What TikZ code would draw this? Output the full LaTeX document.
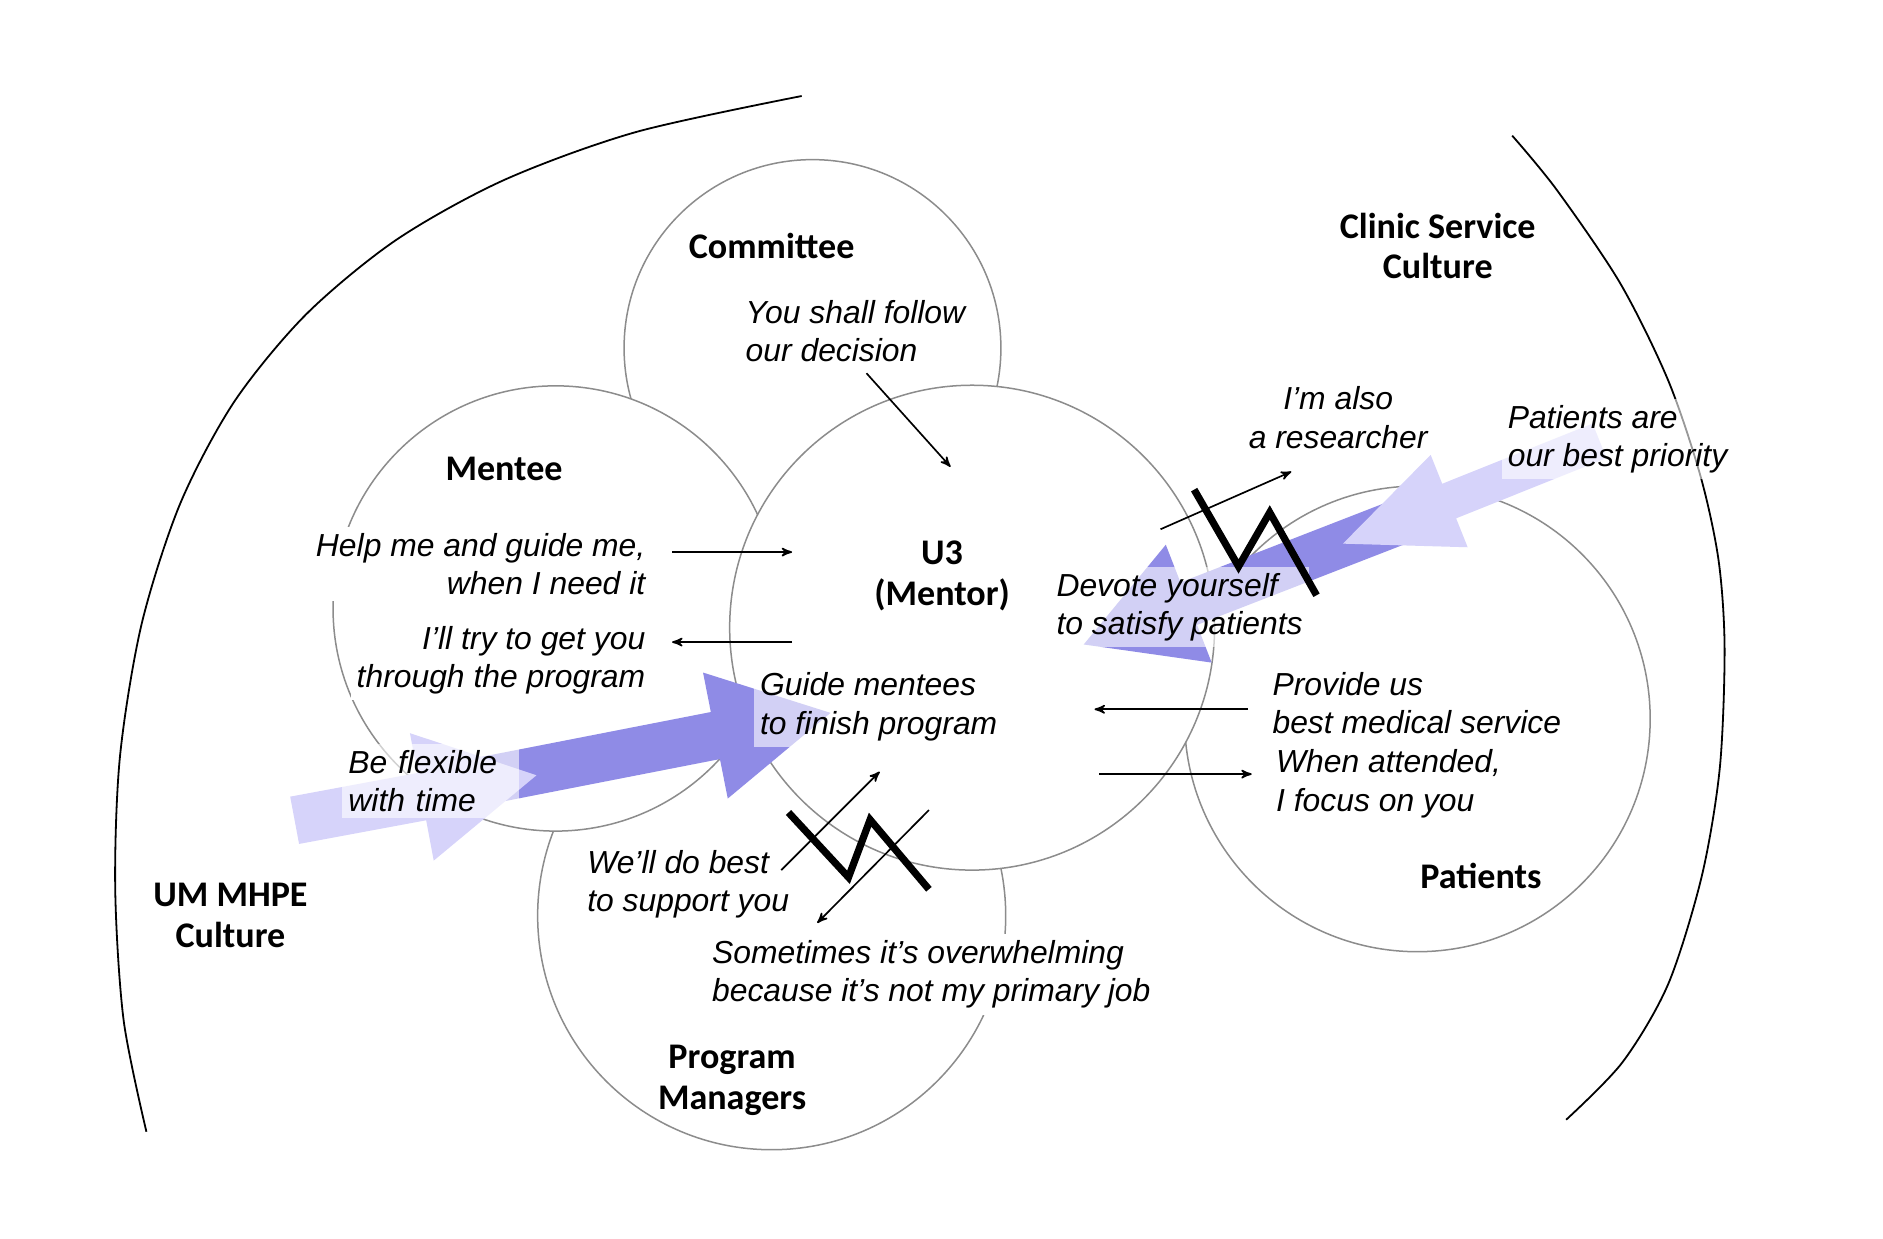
\documentclass[tikz,border=0pt]{standalone}
\usepackage{fontspec}
\setmainfont{Liberation Sans}
\newfontfamily\labelfont{Carlito}
\usetikzlibrary{arrows}
\tikzset{>=stealth'}
\definecolor{ringgray}{HTML}{8C8C8C}
\definecolor{pushdark}{HTML}{8F8BE6}
\definecolor{pushlight}{HTML}{D6D3FA}

\begin{document}
\begin{tikzpicture}[x=0.2mm,y=-0.2mm,
        sphere/.style={draw=ringgray,line width=0.25mm,fill=white,shape=circle,inner sep=0pt},
        party/.style={font=\labelfont\bfseries\fontsize{17.1}{19.3}\selectfont,align=center},
        talk/.style={font=\itshape\fontsize{15.1}{18.2}\selectfont,align=left,inner sep=1mm},
        talkbox/.style={talk,fill=white},
        talkveil/.style={talk,fill=white,fill opacity=0.6,text opacity=1},
        msg/.style={->,line width=0.28mm},
        clash/.style={line width=1.2mm,line join=miter},
        culture/.style={line width=0.3mm}]
        \useasboundingbox (0,0) rectangle (1569,1032);

        % the two cultures
        \draw[culture] plot[smooth] coordinates {(668,80) (530,110) (420,150) (330,200) (255,262)
          (195,335) (150,420) (118,520) (100,630) (96,740) (103,850) (122,943)};
        \draw[culture] plot[smooth] coordinates {(1260,113) (1297,158) (1350,236) (1390,317)
          (1417,397) (1432,467) (1437,540) (1433,640) (1418,730) (1390,820) (1352,885) (1305,933)};

        % the parties, back to front
        \node[sphere,minimum size=62.8mm] (committee) at (677,290) {};
        \node[sphere,minimum size=78mm] (managers) at (643,763) {};
        \node[sphere,minimum size=77.6mm] (patients) at (1181,599) {};
        \node[sphere,minimum size=74.2mm] (mentee) at (463,507) {};
        \node[sphere,minimum size=80.8mm] (mentor) at (810,523) {};

        % big pushes
        \fill[pushdark] (396.8,631.5) -- (592.3,593.3) -- (585.8,560.4) -- (692,594)
          -- (606.4,665.4) -- (599.9,632.5) -- (404.4,670.7) -- cycle;
        \fill[pushlight] (241.8,663.8) -- (347.8,644.1) -- (341.6,610.9) -- (447,646)
          -- (361.4,717.1) -- (355.1,683.5) -- (249.2,703.2) -- cycle;
        \fill[pushdark] (1170,412.9) -- (983.6,485.3) -- (971.4,453.9) -- (903,537)
          -- (1009.6,552.1) -- (997.4,520.7) -- (1183.8,448.3) -- cycle;
        \fill[pushlight] (1327,352.9) -- (1201.7,403.1) -- (1192.1,379) -- (1119,453)
          -- (1222.9,456) -- (1213.3,431.9) -- (1338.6,381.7) -- cycle;

        \node[party] (committee-name) at (643,205) {Committee};
        \node[party] (mentee-name) at (420,391) {Mentee};
        \node[party] (mentor-name) at (785,480) {U3\\(Mentor)};
        \node[party] (clinic-name) at (1198,205) {Clinic Service\\Culture};
        \node[party] (patients-name) at (1234,730) {Patients};
        \node[party] (mhpe-name) at (192,763) {UM MHPE\\Culture};
        \node[party] (managers-name) at (610,900) {Program\\Managers};

        \node[talk,anchor=west] (decision) at (616,276) {You shall follow\\our decision};
        \node[talkbox,anchor=east,align=right] (ask) at (543,470) {Help me and guide me,\\when I need it};
        \node[talkbox,anchor=east,align=right] (try) at (543,550) {I’ll try to get you\\through the program};
        \node[talkveil,anchor=west] (guide) at (628,589) {Guide mentees\\to finish program};
        \node[talkveil,anchor=west,text width=27.4mm] (flexible) at (285,651) {Be flexible\\with time};
        \node[talkbox,anchor=west] (support) at (484,737) {We’ll do best\\to support you};
        \node[talkbox,anchor=west] (overwhelm) at (588,812) {Sometimes it’s overwhelming\\because it’s not my primary job};
        \node[talkveil,anchor=west] (devote) at (875,506) {Devote yourself\\to satisfy patients};
        \node[talk,align=center] (researcher) at (1115,348) {I’m also\\a researcher};
        \node[talkveil,anchor=west] (priority) at (1251,366) {Patients are\\our best priority};
        \node[talk,anchor=west] (provide) at (1055,586) {Provide us\\best medical service};
        \node[talk,anchor=west] (attended) at (1058,653) {When attended,\\I focus on you};

        % conflicts
        \draw[clash] (995,408) -- (1032,472) -- (1058,427) -- (1097,496);
        \draw[clash] (657,677) -- (707,731) -- (725,683) -- (774,741);

        % messages
        \coordinate (rule-a) at (722,311);   \coordinate (rule-b) at (792,389);
        \coordinate (ask-a) at (560,460);    \coordinate (ask-b) at (660,460);
        \coordinate (try-a) at (660,535);    \coordinate (try-b) at (560,535);
        \coordinate (serve-a) at (1040,591); \coordinate (serve-b) at (912,591);
        \coordinate (focus-a) at (916,645);  \coordinate (focus-b) at (1043,645);
        \coordinate (also-a) at (967,441);   \coordinate (also-b) at (1076,393);
        \coordinate (best-a) at (651,725);   \coordinate (best-b) at (733,643);
        \coordinate (load-a) at (774,675);   \coordinate (load-b) at (681,769);
        \draw[msg] (rule-a) -- (rule-b);
        \draw[msg] (ask-a) -- (ask-b);
        \draw[msg] (try-a) -- (try-b);
        \draw[msg] (serve-a) -- (serve-b);
        \draw[msg] (focus-a) -- (focus-b);
        \draw[msg] (also-a) -- (also-b);
        \draw[msg] (best-a) -- (best-b);
        \draw[msg] (load-a) -- (load-b);
\end{tikzpicture}
\end{document}
